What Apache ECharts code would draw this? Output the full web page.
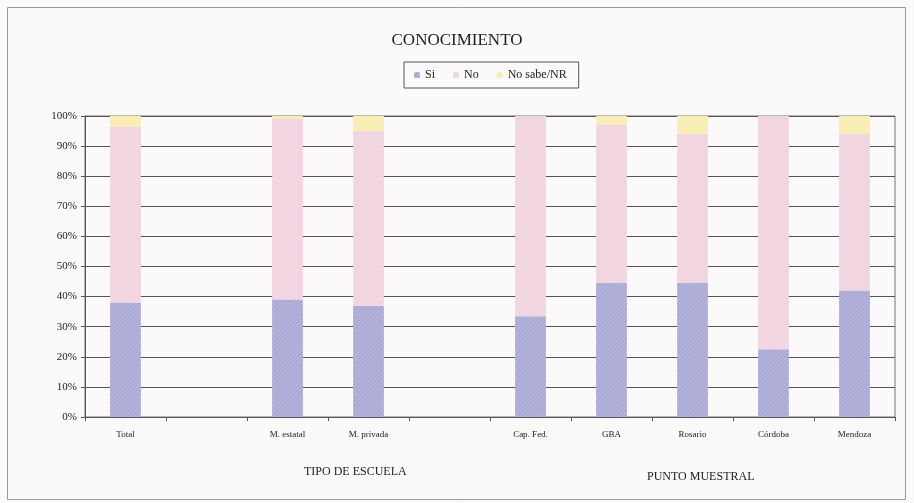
<!DOCTYPE html>
<html>
<head>
<meta charset="utf-8">
<script src="https://cdn.jsdelivr.net/npm/echarts@6/dist/echarts.min.js"></script>
<style>
  html, body { margin: 0; padding: 0; background: #fbf9fa; }
  #chart { width: 914px; height: 503px; }
</style>
</head>
<body>
<div id="chart"></div>
<script>
// --- datos (porcentajes) ---
const categories = ['Total', '', 'M. estatal', 'M. privada', '', 'Cap. Fed.', 'GBA', 'Rosario', 'Córdoba', 'Mendoza']
const si = [38, null, 39, 37, null, 33.5, 44.5, 44.5, 22.5, 42]
const no = [58.5, null, 60, 58, null, 66.5, 52.5, 49.5, 77.5, 52]
const noSabe = [3.5, null, 1, 5, null, 0, 3, 6, 0, 6]
const groupLabels = ['TIPO DE ESCUELA', 'PUNTO MUESTRAL']

const SERIF = '"Liberation Serif", "DejaVu Serif", serif'

const chart = echarts.init(document.getElementById('chart'))

const barBase = {
  type: 'bar',
  stack: 'total',
  barWidth: '38%'
}

const option = {
  backgroundColor: '#fbf9fa',
  title: {
    text: 'CONOCIMIENTO',
    left: 'center',
    top: 27,
    textStyle: { fontFamily: SERIF, fontWeight: 'normal', fontSize: 17, color: '#222' }
  },
  legend: {
    top: 62,
    left: 404,
    itemWidth: 6,
    itemHeight: 6,
    itemGap: 18,
    padding: [7, 12, 7, 10],
    borderColor: '#555',
    borderWidth: 1,
    textStyle: { fontFamily: SERIF, fontSize: 12, color: '#222' },
    data: ['Si', 'No', 'No sabe/NR']
  },
  grid: {
    left: 85,
    right: 19,
    top: 116,
    bottom: 86,
    show: true,
    borderColor: '#777',
    borderWidth: 1
  },
  xAxis: {
    type: 'category',
    data: categories,
    axisLine: { lineStyle: { color: '#555' } },
    axisTick: { show: true, length: 4, lineStyle: { color: '#555' } },
    axisLabel: { fontFamily: SERIF, fontSize: 9, color: '#222', margin: 13, interval: 0 }
  },
  yAxis: {
    type: 'value',
    min: 0,
    max: 100,
    interval: 10,
    axisLine: { show: true, lineStyle: { color: '#555' } },
    axisTick: { show: true, length: 4, lineStyle: { color: '#555' } },
    axisLabel: { fontFamily: SERIF, fontSize: 11, color: '#222', formatter: '{value}%', margin: 8 },
    splitLine: { lineStyle: { color: '#555', width: 1 } }
  },
  series: [
    { ...barBase, name: 'Si', data: si, itemStyle: { color: '#b4b3dc',
      decal: { symbol: 'rect', dashArrayX: [1, 0], dashArrayY: [1, 2], rotation: -0.785, color: 'rgba(150,150,200,0.5)' } } },
    { ...barBase, name: 'No', data: no, itemStyle: { color: '#f1d6e2' } },
    { ...barBase, name: 'No sabe/NR', data: noSabe, itemStyle: { color: '#f8edb4' } }
  ],
  graphic: [
    {
      type: 'rect',
      shape: { x: 7.5, y: 7.5, width: 898, height: 492 },
      style: { fill: 'none', stroke: '#999', lineWidth: 1 },
      silent: true
    },
    {
      type: 'text', left: 304, top: 466,
      style: { text: groupLabels[0], font: '12px ' + SERIF, fill: '#222' }
    },
    {
      type: 'text', left: 647, top: 471,
      style: { text: groupLabels[1], font: '12px ' + SERIF, fill: '#222' }
    }
  ]
}

chart.setOption(option)
</script>
</body>
</html>
